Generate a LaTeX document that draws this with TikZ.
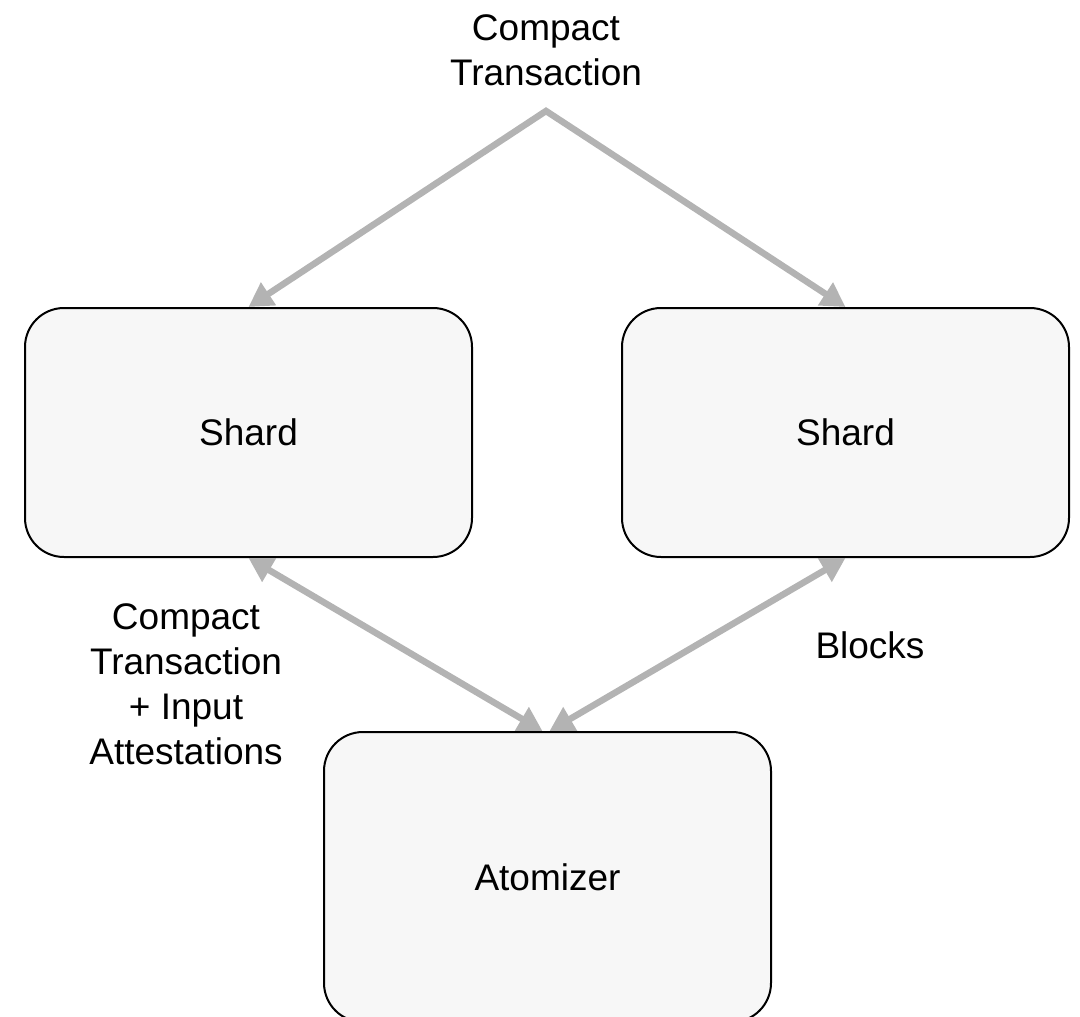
\documentclass[tikz,border=0pt]{standalone}
\usepackage{fontspec}
\setmainfont{Liberation Sans}
\usetikzlibrary{arrows.meta,calc}
\definecolor{boxfill}{HTML}{F7F7F7}
\definecolor{arrgray}{HTML}{B3B3B3}
\begin{document}
\begin{tikzpicture}[x=1pt,y=-1pt,
  box/.style={draw=black,line width=2pt,fill=boxfill,rounded corners=39pt,minimum width=447pt,minimum height=249pt,inner sep=0pt,font=\fontsize{37}{45}\selectfont},
  lbl/.style={align=center,font=\fontsize{37}{45}\selectfont,inner sep=0pt},
  tip/.tip={Triangle[length=24pt,width=26pt]},
  conn/.style={draw=arrgray,line width=6.5pt,line join=miter},
]
\useasboundingbox (0,0) rectangle (1080,1017);
\node[box] (shardL) at (248.5,432.5) {Shard};
\node[box] (shardR) at (845.5,432.5) {Shard};
\node[box,minimum height=290pt] (atom) at (547.5,877) {Atomizer};
\node[lbl] (top) at (546,50) {Compact\\Transaction};
\node[lbl] (lblL) at (186,684) {Compact\\Transaction\\+ Input\\Attestations};
\node[lbl] (lblR) at (870,645) {Blocks};
\coordinate (src) at (546,111);
\draw[conn,tip-tip] (shardL.north) -- (src) -- (shardR.north);
\draw[conn,tip-tip] (shardL.south) -- ($(atom.north)+(-5,0)$);
\draw[conn,tip-tip] (shardR.south) -- ($(atom.north)+(2,0)$);
\end{tikzpicture}
\end{document}
